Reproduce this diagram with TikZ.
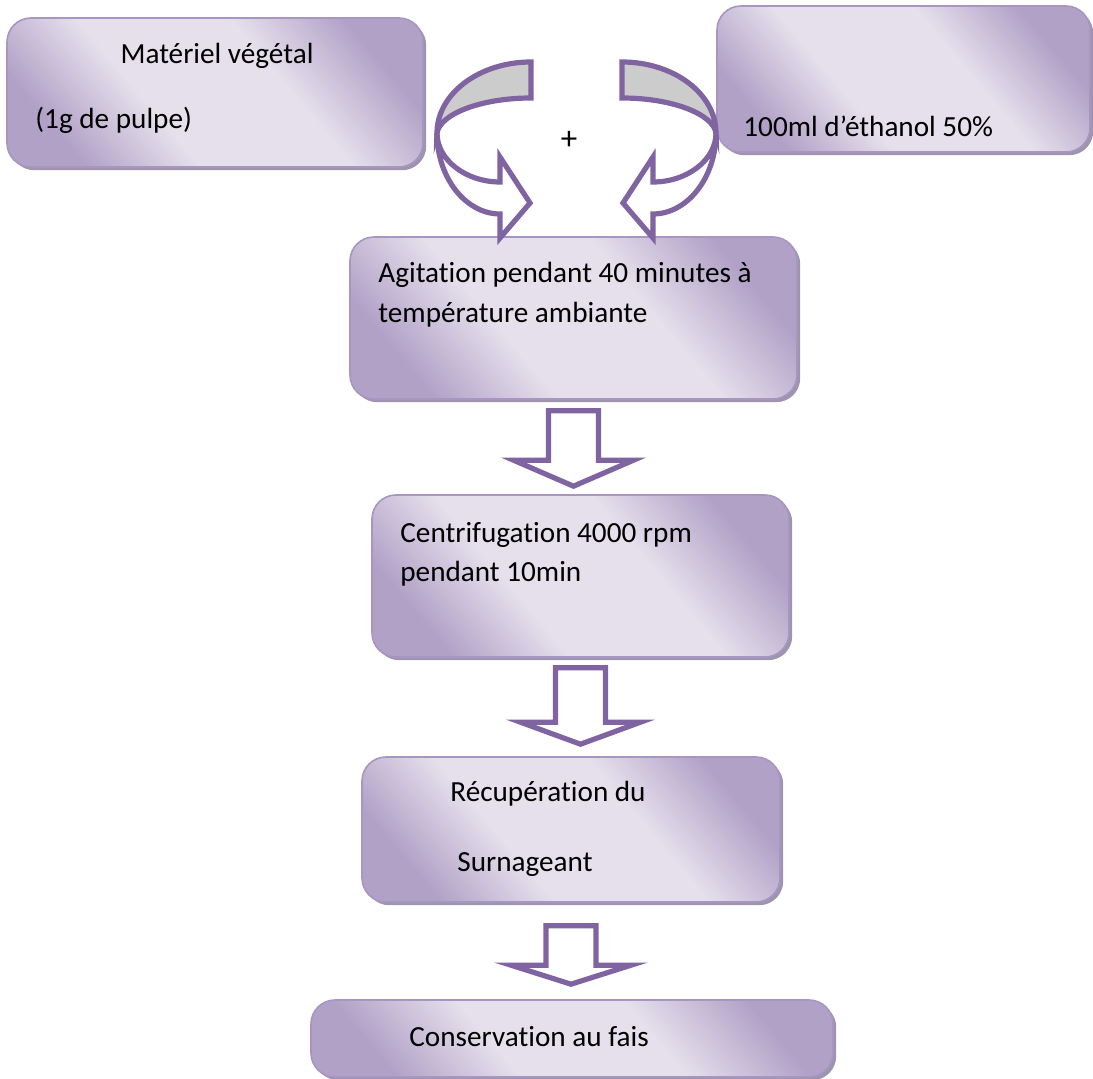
\documentclass[tikz,border=0pt]{standalone}
\usepackage{fontspec}
\setmainfont{Carlito}[Ligatures=NoCommon]
\usetikzlibrary{shadows,calc}
\definecolor{PurpleLine}{RGB}{128,100,162}
\definecolor{PurpleDark}{RGB}{178,161,199}
\definecolor{PurpleLight}{RGB}{229,224,236}
\definecolor{PurpleBorder}{RGB}{167,149,194}
\definecolor{PurpleShadow}{RGB}{158,148,174}
\definecolor{BandGrey}{RGB}{204,204,204}
\pgfdeclarehorizontalshading{BoxShade}{100bp}{color(0bp)=(PurpleDark); color(25bp)=(PurpleDark);
  color(40bp)=(PurpleLight); color(60bp)=(PurpleLight); color(75bp)=(PurpleDark); color(100bp)=(PurpleDark)}
\tikzset{
  BoxStyle/.style = { rectangle, rounded corners=12pt, inner sep=0pt,
                      draw=PurpleBorder, line width=0.8pt,
                      shading=BoxShade, shading angle=40,
                      drop shadow={shadow xshift=1.6pt, shadow yshift=-1.6pt,
                                   fill=PurpleShadow, opacity=1} },
  ArrowStyle/.style = { draw=PurpleLine, line width=2.6pt, line join=miter, fill=white } }

\newcommand{\CurvedArrow}{%
  \draw[ArrowStyle] (437,133) .. controls (437,160) and (466,182) .. (500,182)
    -- (500,157) -- (530,203) -- (500,238) -- (500,214)
    .. controls (466,214) and (437,178) .. (437,133) -- cycle;
  \draw[ArrowStyle, fill=BandGrey] (437,133) .. controls (437,94) and (479,62) .. (531,62)
    -- (531,98) .. controls (481,98) and (440,114) .. (437,133) -- cycle;}

\newcommand{\FlecheBas}[4]{%
  \draw[ArrowStyle] let \p1=(#1.south), \p2=(#2.north) in
    (\x1-12.5pt,\y1-#3pt) -- (\x1+12.5pt,\y1-#3pt) -- (\x1+12.5pt,\y2+17pt)
    -- (\x1+30pt,\y2+17pt) -- (\x1,\y2+#4pt) -- (\x1-30pt,\y2+17pt)
    -- (\x1-12.5pt,\y2+17pt) -- cycle;}

\begin{document}
\begin{tikzpicture}[x=0.5pt, y=-0.5pt]
  \useasboundingbox (0,0) rectangle (1093,1079);
  \tikzstyle{TextStyle}=[inner sep=0pt, font=\fontsize{14.6}{20}\selectfont]

  \node[BoxStyle, minimum width=208pt, minimum height=74.5pt] (mat) at (215,92.5) {};
  \node[BoxStyle, minimum width=186.5pt, minimum height=73pt] (eth) at (903.5,79) {};
  \node[BoxStyle, minimum width=223.5pt, minimum height=81pt] (agit) at (573.5,318) {};
  \node[BoxStyle, minimum width=208.5pt, minimum height=81pt] (centri) at (580.5,576) {};
  \node[BoxStyle, minimum width=209pt, minimum height=72.5pt] (recup) at (571,829.5) {};
  \node[BoxStyle, minimum width=261pt, minimum height=38.5pt] (cons) at (572,1038.5) {};

  \node[TextStyle, anchor=base] (t1) at (217,64) {Matériel végétal};
  \node[TextStyle, anchor=base west] (t2) at (35,129) {(1g de pulpe)};
  \node[TextStyle, anchor=base west] (t3) at (743,137) {100ml d’éthanol 50\%};
  \node[TextStyle, font=\fontsize{16.5}{20}\selectfont] (plus) at (569,140) {+};
  \node[TextStyle, anchor=base west] (t4) at (378,283) {Agitation pendant 40 minutes à};
  \node[TextStyle, anchor=base west] (t5) at (378,323) {température ambiante};
  \node[TextStyle, anchor=base west] (t6) at (400,543) {Centrifugation 4000 rpm};
  \node[TextStyle, anchor=base west] (t7) at (400,582) {pendant 10min};
  \node[TextStyle, anchor=base west] (t8) at (450,802) {Récupération du};
  \node[TextStyle, anchor=base west] (t9) at (457,871) {Surnageant};
  \node[TextStyle, anchor=base west] (t10) at (409,1046) {Conservation au fais};

  \CurvedArrow
  \begin{scope}[xshift=576.5pt, xscale=-1]
    \CurvedArrow
  \end{scope}

  \FlecheBas{agit}{centri}{5.5}{4}
  \FlecheBas{centri}{recup}{5}{6}
  \FlecheBas{recup}{cons}{11.5}{7.5}

\end{tikzpicture}
\end{document}
